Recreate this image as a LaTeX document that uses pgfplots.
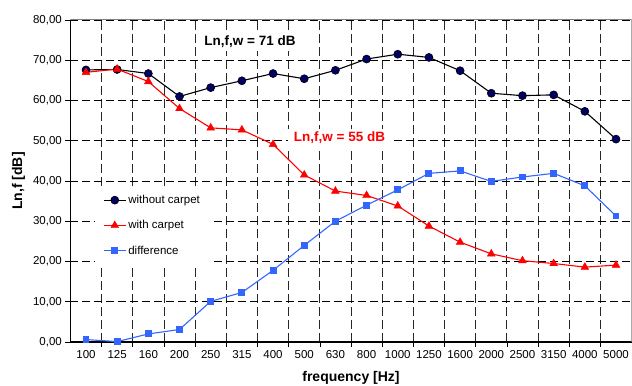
\documentclass[border=0pt]{standalone}
\usepackage{pgfplots}
\pgfplotsset{compat=1.18}
\usepackage{fontspec}
\setmainfont{Liberation Sans}
\definecolor{navy}{RGB}{0,0,102}
\definecolor{dblue}{RGB}{51,102,255}
\begin{document}
\begin{tikzpicture}
\begin{axis}[
  scale only axis, width=561.2pt, height=322pt,
  xmin=-0.5, xmax=17.5, ymin=0, ymax=80,
  axis lines=left, axis line style={-, line width=1.2pt, black},
  xtick={0,...,17},
  xticklabels={100,125,160,200,250,315,400,500,630,800,1000,1250,1600,2000,2500,3150,4000,5000},
  minor xtick={0.5,1.5,...,16.5},
  xminorgrids,
  major x tick style={draw=none},
  ytick={0,10,...,80},
  ymajorgrids,
  tick align=outside,
  major tick length=5pt, minor tick length=5pt,
  tick style={black, line width=0.6pt},
  major grid style={black, line width=0.8pt, dash pattern=on 8pt off 4pt},
  minor grid style={black!85, line width=0.8pt, dash pattern=on 9pt off 4pt},
  /pgf/number format/assume math mode=true,
  yticklabel style={/pgf/number format/.cd, fixed, fixed zerofill, precision=2, use comma},
  ticklabel style={font=\fontsize{11.5}{13}\selectfont},
  xlabel={frequency [Hz]},
  ylabel={Ln,f [dB]},
  every axis x label/.style={at={(axis description cs:0.5,0)}, yshift=-36pt, anchor=center, font=\bfseries\fontsize{14}{16}\selectfont},
  every axis y label/.style={at={(axis description cs:0,0.5)}, xshift=-52pt, rotate=90, anchor=center, font=\bfseries\fontsize{14}{16}\selectfont},
  legend style={at={(axis cs:0.29,38.5)}, anchor=north west, draw=none, fill=white,
    font=\fontsize{11.5}{13}\selectfont, row sep=11.5pt, inner xsep=8pt, inner ysep=6pt},
  legend cell align=left,
  legend image code/.code={\draw[mark repeat=2,mark phase=2,#1] plot coordinates {(0pt,0pt)(11pt,0pt)(22pt,0pt)};},
]
\addplot[black, line width=1.1pt, mark=*, mark size=4pt, mark options={fill=navy, draw=black, line width=0.6pt}]
coordinates {(0,67.6)(1,67.7)(2,66.7)(3,61.0)(4,63.2)(5,64.9)(6,66.7)(7,65.4)(8,67.5)(9,70.3)(10,71.5)(11,70.7)(12,67.4)(13,61.8)(14,61.2)(15,61.4)(16,57.3)(17,50.4)};
\addlegendentry{without carpet}
\addplot[red, line width=1.1pt, mark=triangle*, mark size=4.5pt, mark options={fill=red, draw=red, line width=0.4pt}]
coordinates {(0,67.0)(1,67.8)(2,64.7)(3,58.0)(4,53.2)(5,52.7)(6,49.1)(7,41.5)(8,37.5)(9,36.4)(10,33.8)(11,28.8)(12,24.8)(13,21.9)(14,20.2)(15,19.5)(16,18.6)(17,19.1)};
\addlegendentry{with carpet}
\addplot[dblue, line width=1.1pt, mark=square*, mark size=2.9pt, mark options={fill=dblue, draw=dblue}]
coordinates {(0,0.6)(1,0.1)(2,2.0)(3,3.1)(4,10.1)(5,12.3)(6,17.8)(7,24.0)(8,30.0)(9,34.0)(10,37.8)(11,41.9)(12,42.5)(13,39.9)(14,41.0)(15,41.9)(16,38.8)(17,31.3)};
\addlegendentry{difference}
\draw[gray, line width=1pt] (rel axis cs:0,1) -- (rel axis cs:1,1) -- (rel axis cs:1,0);
\node[font=\bfseries\fontsize{13.5}{16}\selectfont, fill=white, inner xsep=6pt] at (axis cs:5.26,74.5) {Ln,f,w = 71 dB};
\node[font=\bfseries\fontsize{13.5}{16}\selectfont, text=red, fill=white, inner xsep=6pt] at (axis cs:8.13,50.7) {Ln,f,w = 55 dB};
\end{axis}
\pgfresetboundingbox
\path ([xshift=-70.4pt,yshift=-44pt]current axis.south west) rectangle ([xshift=0.4pt,yshift=20pt]current axis.north east);
\end{tikzpicture}
\end{document}
